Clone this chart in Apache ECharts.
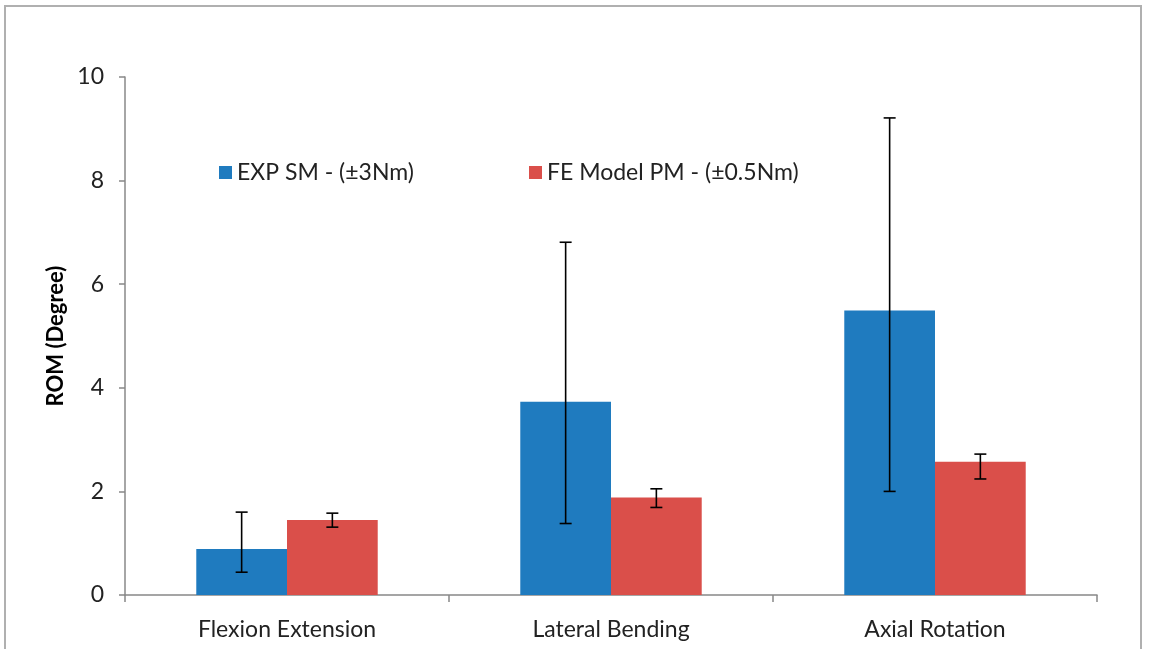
<!DOCTYPE html>
<html><head><meta charset="utf-8">
<script src="https://cdn.jsdelivr.net/npm/echarts@6/dist/echarts.min.js"></script>
<style>html,body{margin:0;padding:0;background:#fff}#c{width:1152px;height:649px}</style>
</head><body><div id="c"></div>
<script>
const categories = ['Flexion Extension', 'Lateral Bending', 'Axial Rotation'];
const seriesNames = ['EXP SM - (\u00b13Nm)', 'FE Model PM - (\u00b10.5Nm)'];
const expValues = [0.89, 3.73, 5.49];
const expLow = [0.44, 1.38, 2.0];
const expHigh = [1.6, 6.81, 9.21];
const feValues = [1.45, 1.88, 2.57];
const feLow = [1.31, 1.69, 2.24];
const feHigh = [1.58, 2.05, 2.72];

const font = 'Lato, "Open Sans", sans-serif';
const chart = echarts.init(document.getElementById('c'));

function errSeries(low, high, offsetFrac) {
  return {
    type: 'custom',
    silent: true,
    z: 10,
    data: low.map((l, i) => [i, l, high[i]]),
    encode: { x: 0, y: [1, 2] },
    renderItem: function (params, api) {
      const i = api.value(0);
      const band = api.size([1, 0])[0];
      const pLo = api.coord([i, api.value(1)]);
      const pHi = api.coord([i, api.value(2)]);
      const x = pLo[0] + band * offsetFrac;
      const cap = 6;
      const st = { stroke: '#000', lineWidth: 1.6 };
      return {
        type: 'group',
        children: [
          { type: 'line', shape: { x1: x, y1: pHi[1], x2: x, y2: pLo[1] }, style: st },
          { type: 'line', shape: { x1: x - cap, y1: pHi[1], x2: x + cap, y2: pHi[1] }, style: st },
          { type: 'line', shape: { x1: x - cap, y1: pLo[1], x2: x + cap, y2: pLo[1] }, style: st }
        ]
      };
    }
  };
}

chart.setOption({
  animation: false,
  backgroundColor: '#fff',
  graphic: [{
    type: 'rect', silent: true,
    shape: { x: 5, y: 6, width: 1136, height: 660 },
    style: { fill: 'none', stroke: '#b0b0b0', lineWidth: 2 }
  }],
  grid: { left: 125, right: 55, top: 77, bottom: 54 },
  legend: [
    { data: [seriesNames[0]], left: 214, top: 156, itemWidth: 13, itemHeight: 13, icon: 'rect', itemGap: 6,
      textStyle: { fontFamily: font, fontSize: 23, color: '#222' } },
    { data: [seriesNames[1]], left: 524, top: 156, itemWidth: 13, itemHeight: 13, icon: 'rect',
      textStyle: { fontFamily: font, fontSize: 23, color: '#222' } }
  ],
  xAxis: {
    type: 'category',
    data: categories,
    axisLine: { lineStyle: { color: '#888', width: 1.5 } },
    axisTick: { show: true, length: 7, lineStyle: { color: '#888', width: 1.5 } },
    axisLabel: { fontFamily: font, fontSize: 23, color: '#222', margin: 23 },
    splitLine: { show: false }
  },
  yAxis: {
    type: 'value',
    min: 0, max: 10, interval: 2,
    name: 'ROM (Degree)',
    nameLocation: 'middle',
    nameGap: 56,
    nameTextStyle: { fontFamily: font, fontSize: 22, fontWeight: 'bold', color: '#000' },
    axisLine: { show: true, lineStyle: { color: '#888', width: 1.5 } },
    axisTick: { show: true, length: 6, lineStyle: { color: '#888', width: 1.5 } },
    axisLabel: { fontFamily: font, fontSize: 23, color: '#222', margin: 21 },
    splitLine: { show: false }
  },
  series: [
    { name: seriesNames[0], type: 'bar', data: expValues, barWidth: '28%', barGap: '0%',
      itemStyle: { color: '#1f7bbf' } },
    { name: seriesNames[1], type: 'bar', data: feValues, barWidth: '28%', barGap: '0%',
      itemStyle: { color: '#da4f4a' } },
    errSeries(expLow, expHigh, -0.14),
    errSeries(feLow, feHigh, 0.14)
  ]
});
</script></body></html>
